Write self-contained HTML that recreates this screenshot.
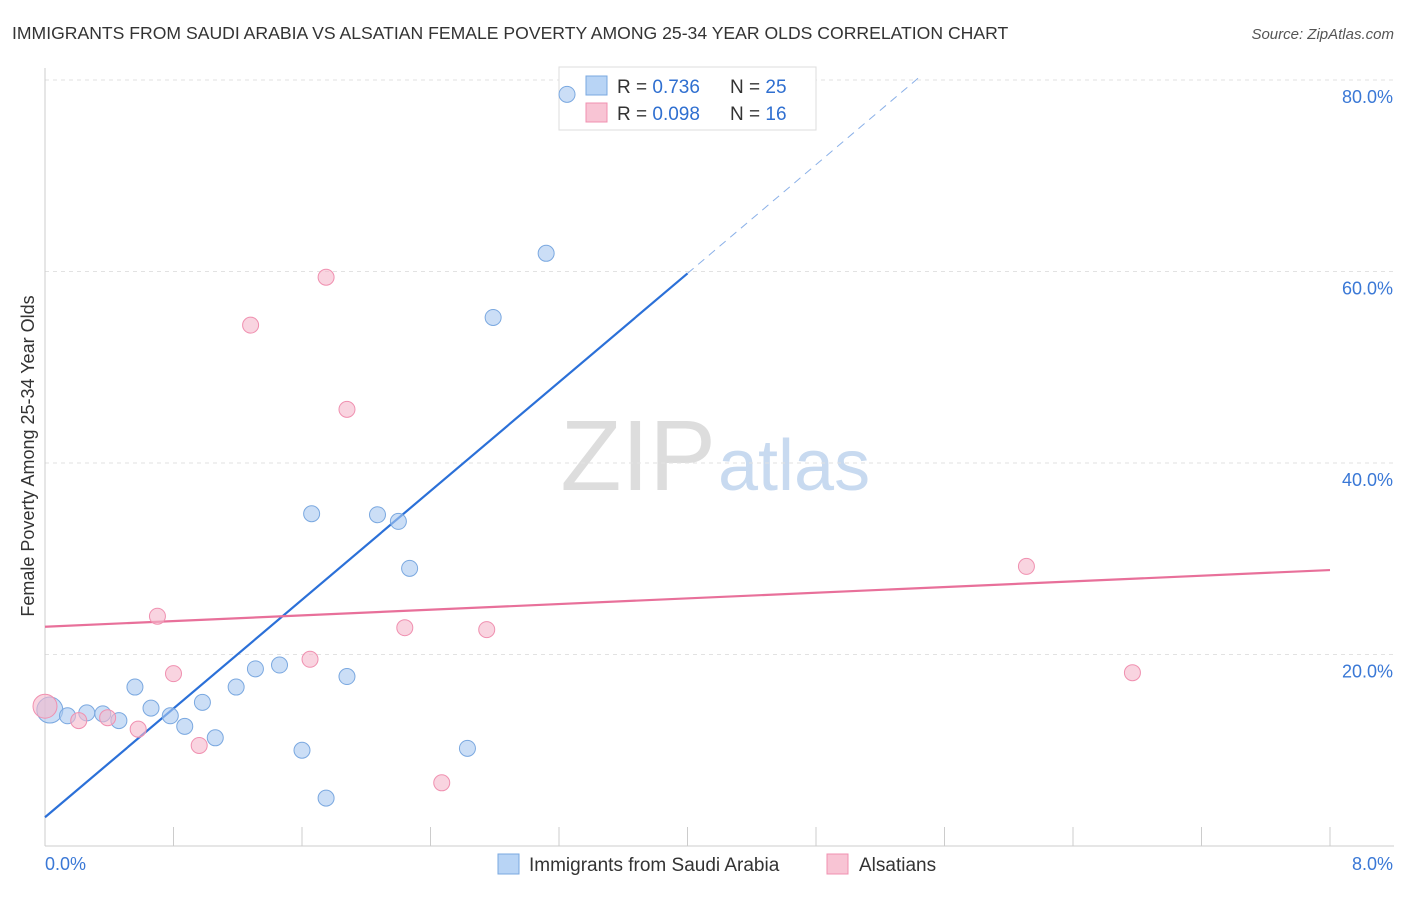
<!DOCTYPE html>
<html><head><meta charset="utf-8"><style>
body{margin:0;background:#fff;font-family:"Liberation Sans",sans-serif;}
svg text{font-family:"Liberation Sans",sans-serif;}
</style></head><body>
<svg id="c" width="1406" height="892" xmlns="http://www.w3.org/2000/svg">
<text x="12" y="39" font-size="17.6" fill="#333">IMMIGRANTS FROM SAUDI ARABIA VS ALSATIAN FEMALE POVERTY AMONG 25-34 YEAR OLDS CORRELATION CHART</text>
<text x="1394" y="39" font-size="15" fill="#555" font-style="italic" text-anchor="end">Source: ZipAtlas.com</text>
<text x="34" y="456" font-size="18" fill="#333" text-anchor="middle" transform="rotate(-90 34 456)">Female Poverty Among 25-34 Year Olds</text>
<text x="716" y="490" font-size="100" fill="#ddd" text-anchor="end" font-family="Liberation Serif">ZIP</text>
<text x="718" y="490" font-size="72" fill="#c8daf0">atlas</text>
<g id="grid"></g><g id="axes"></g><g id="lines"></g>
<g>
<rect x="559" y="67" width="257" height="63" fill="#fff" stroke="#ddd"/>
<rect x="586" y="76" width="21" height="19" fill="#b8d4f5" stroke="#7aa8e0"/>
<rect x="586" y="103" width="21" height="19" fill="#f8c4d4" stroke="#f090b0"/>
<text x="617" y="93" font-size="19" fill="#333">R = <tspan fill="#2f6fd0">0.736</tspan></text>
<text x="730" y="93" font-size="19" fill="#333">N = <tspan fill="#2f6fd0">25</tspan></text>
<text x="617" y="120" font-size="19" fill="#333">R = <tspan fill="#2f6fd0">0.098</tspan></text>
<text x="730" y="120" font-size="19" fill="#333">N = <tspan fill="#2f6fd0">16</tspan></text>
</g>
<g id="pts"></g>
<g>
<rect x="498" y="854" width="21" height="20" fill="#b8d4f5" stroke="#7aa8e0"/>
<text x="529" y="871" font-size="19" fill="#333">Immigrants from Saudi Arabia</text>
<rect x="827" y="854" width="21" height="20" fill="#f8c4d4" stroke="#f090b0"/>
<text x="859" y="871" font-size="19" fill="#333">Alsatians</text>
</g>
</svg>
<script>
const blueX=[0.03,0.14,0.26,0.36,0.46,0.56,0.66,0.78,0.87,0.98,1.06,1.19,1.31,1.46,1.60,1.66,1.75,1.88,2.07,2.20,2.27,2.63,2.79,3.12,3.25];
const blueY=[14.2,13.6,13.9,13.8,13.1,16.6,14.4,13.6,12.5,15.0,11.3,16.6,18.5,18.9,10.0,34.7,5.0,17.7,34.6,33.9,29.0,10.2,55.2,61.9,78.5];
const pinkX=[0.0,0.21,0.39,0.58,0.70,0.80,0.96,1.28,1.65,1.75,1.88,2.24,2.47,2.75,6.11,6.77];
const pinkY=[14.6,13.1,13.4,12.2,24.0,18.0,10.5,54.4,19.5,59.4,45.6,22.8,6.6,22.6,29.2,18.1];
const xTicks=[0,0.8,1.6,2.4,3.2,4.0,4.8,5.6,6.4,7.2,8.0];
const yTicks=[20,40,60,80];
const yTickLabels=["20.0%","40.0%","60.0%","80.0%"];
const blueFit=[3.0,14.2]; const pinkFit=[22.9,0.74];
const NS="http://www.w3.org/2000/svg";
const X=v=>45+v/8*1285, Y=v=>846-v/20*191.5;
function mk(t,a,p){const e=document.createElementNS(NS,t);for(const k in a)e.setAttribute(k,a[k]);document.getElementById(p).appendChild(e);return e;}
yTicks.forEach((t,i)=>{
 const g=mk('line',{x1:45,x2:1394,y1:Y(t),y2:Y(t),stroke:'#e2e2e2','stroke-dasharray':'4 4'},'grid');
 
 
 const l=mk('text',{x:1393,y:Y(t)+23,'font-size':18,fill:'#3a78d6','text-anchor':'end'},'axes');l.textContent=yTickLabels[i];
 
 
});
const ax=mk('line',{x1:45,x2:1394,y1:846,y2:846,stroke:'#ccc'},'axes');


const ay=mk('line',{x1:45,x2:45,y1:68,y2:846,stroke:'#ccc'},'axes');


xTicks.forEach(t=>{const l=mk('line',{x1:X(t),x2:X(t),y1:827,y2:846,stroke:'#ccc'},'axes');
 
 });
[[0,'0.0%','start',45],[8,'8.0%','end',1393]].forEach(d=>{const l=mk('text',{x:d[3],y:870,'font-size':18,fill:'#3a78d6','text-anchor':d[2]},'axes');l.textContent=d[1];
 
 });
const bx2=4.0,bx3=(80.5-blueFit[0])/blueFit[1];
const b1=mk('line',{x1:X(0),y1:Y(blueFit[0]),x2:X(bx2),y2:Y(blueFit[0]+blueFit[1]*bx2),stroke:'#2b70d8','stroke-width':2.2},'lines');


const b2=mk('line',{x1:X(bx2),y1:Y(blueFit[0]+blueFit[1]*bx2),x2:X(bx3),y2:Y(80.5),stroke:'#8ab0e8','stroke-width':1,'stroke-dasharray':'8 6'},'lines');


const p1=mk('line',{x1:X(0),y1:Y(pinkFit[0]),x2:X(8),y2:Y(pinkFit[0]+pinkFit[1]*8),stroke:'#e8709a','stroke-width':2.2},'lines');


blueX.forEach((x,i)=>{const c=mk('circle',{cx:X(x),cy:Y(blueY[i]),r:i==0?13:8,fill:'rgba(168,200,240,0.6)',stroke:'#7aa8e0','stroke-width':1},'pts');
 
 });
pinkX.forEach((x,i)=>{const c=mk('circle',{cx:X(x),cy:Y(pinkY[i]),r:i==0?12:8,fill:'rgba(245,184,203,0.6)',stroke:'#f090b0','stroke-width':1},'pts');
 
 });
</script>
</body></html>
